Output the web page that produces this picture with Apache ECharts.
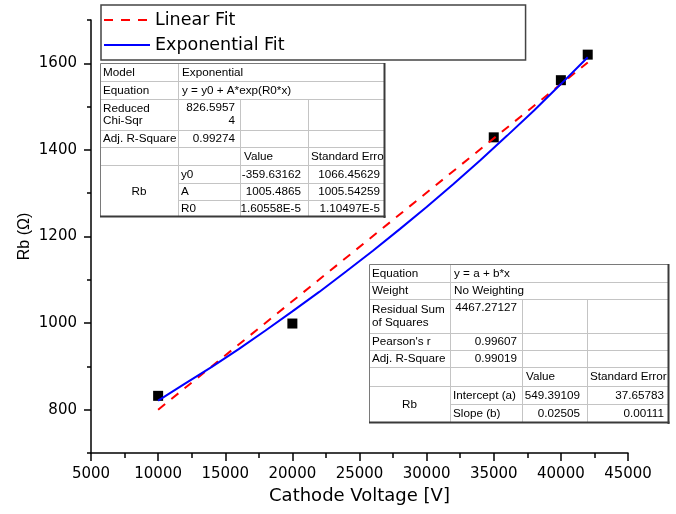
<!DOCTYPE html>
<html><head><meta charset="utf-8">
<script src="https://cdn.jsdelivr.net/npm/echarts@6/dist/echarts.min.js"></script>
<style>html,body{margin:0;padding:0;background:#fff}#c{width:676px;height:514px}</style>
</head><body><div id="c"></div><script>
// ---- data ----
const voltage = [10000, 20000, 35000, 40000, 42000];
const rb = [832, 999, 1429, 1561, 1620];
const linFitX = [10000, 42000];
const linFitY = [800, 1602];
const expFitX = [10000,12000,14000,16000,18000,20000,22000,24000,26000,28000,30000,32000,34000,36000,38000,40000,42000];
const expFitY = [821,860,899,940,983,1027,1072,1119,1167,1217,1268,1321,1376,1433,1491,1552,1614];
const yMajorTicks = [800, 1000, 1200, 1400, 1600];
const yMinorTicks = [700, 900, 1100, 1300, 1500, 1700];
const seriesNames = ['Linear Fit', 'Exponential Fit'];

const expInfoLabels = ['Model', 'Equation', 'Reduced\nChi-Sqr', 'Adj. R-Square'];
const expInfoValues = ['Exponential', 'y = y0 + A*exp(R0*x)', '826.5957\n4', '0.99274'];
const expParams = ['y0', 'A', 'R0'];
const expValues = ['-359.63162', '1005.4865', '1.60558E-5'];
const expErrors = ['1066.45629', '1005.54259', '1.10497E-5'];

const linInfoLabels = ['Equation', 'Weight', 'Residual Sum\nof Squares', "Pearson's r", 'Adj. R-Square'];
const linInfoValues = ['y = a + b*x', 'No Weighting', '4467.27127', '0.99607', '0.99019'];
const linParams = ['Intercept (a)', 'Slope (b)'];
const linValues = ['549.39109', '0.02505'];
const linErrors = ['37.65783', '0.00111'];
const headerValue = 'Value';
const headerError = 'Standard Error';
const groupName = 'Rb';

// ---- table drawing ----
const TFONT = 'Liberation Sans, Arial, sans-serif';
const TSIZE = 11.7;
function txt(x, y, text, align, valign, extra) {
  return {
    type: 'text', x: x, y: y, z: 20,
    style: Object.assign({ text: text, fill: '#000', fontSize: TSIZE, fontFamily: TFONT,
      align: align, verticalAlign: valign, lineHeight: 13 }, extra || {})
  };
}
function ln(x1, y1, x2, y2, color, w) {
  return { type: 'line', z: 19, shape: { x1: x1, y1: y1, x2: x2, y2: y2 },
    style: { stroke: color, lineWidth: w } };
}
function buildTable(cols, rows, infoLabels, infoValues, params, values, errors) {
  const els = [];
  const L = cols[0], R = cols[4], T = rows[0], B = rows[rows.length - 1];
  const nInfo = infoLabels.length;
  const hdr = nInfo;
  els.push({ type: 'rect', z: 18, shape: { x: L, y: T, width: R - L, height: B - T }, style: { fill: '#fff' } });
  const grid = '#c4c4c4';
  for (let i = 1; i <= hdr + 1; i++) els.push(ln(L, rows[i] + 0.5, R, rows[i] + 0.5, grid, 1));
  for (let i = hdr + 2; i < rows.length - 1; i++) els.push(ln(cols[1], rows[i] + 0.5, R, rows[i] + 0.5, grid, 1));
  els.push(ln(cols[1] + 0.5, T, cols[1] + 0.5, B, grid, 1));
  els.push(ln(cols[2] + 0.5, rows[2], cols[2] + 0.5, B, grid, 1));
  els.push(ln(cols[3] + 0.5, rows[2], cols[3] + 0.5, B, grid, 1));
  // cover for any text overflowing past the right edge
  els.push({ type: 'rect', z: 22, shape: { x: R, y: T + 1, width: 8, height: B - T - 2 }, style: { fill: '#fff' } });
  els.push({ type: 'rect', z: 23, shape: { x: L + 0.5, y: T + 0.5, width: R - L - 1, height: B - T - 1 },
    style: { fill: null, stroke: '#7a7a7a', lineWidth: 1 } });
  els.push(Object.assign(ln(R - 0.5, T, R - 0.5, B + 1, '#3a3a3a', 2), { z: 24 }));
  els.push(Object.assign(ln(L, B - 0.5, R + 0.5, B - 0.5, '#3a3a3a', 2), { z: 24 }));
  for (let i = 0; i < nInfo; i++) {
    const top = rows[i], bot = rows[i + 1], mid = (top + bot) / 2;
    const tall = bot - top > 22;
    els.push(txt(L + 3, mid + 0.5, infoLabels[i], 'left', 'middle', { lineHeight: tall ? 12.5 : 13 }));
    if (i < 2) {
      els.push(txt(cols[1] + 4, mid + 0.5, infoValues[i], 'left', 'middle'));
    } else if (tall) {
      els.push(txt(cols[2] - 5, top + 2, infoValues[i], 'right', 'top'));
    } else {
      els.push(txt(cols[2] - 5, mid + 0.5, infoValues[i], 'right', 'middle'));
    }
  }
  const hm = (rows[hdr] + rows[hdr + 1]) / 2 + 0.5;
  els.push(txt(cols[2] + 4, hm, headerValue, 'left', 'middle'));
  els.push(txt(cols[3] + 3, hm, headerError, 'left', 'middle'));
  els.push(txt((L + cols[1]) / 2, (rows[hdr + 1] + B) / 2 + 0.5, groupName, 'center', 'middle'));
  for (let j = 0; j < params.length; j++) {
    const m = (rows[hdr + 1 + j] + rows[hdr + 2 + j]) / 2 + 0.5;
    els.push(txt(cols[1] + 3, m, params[j], 'left', 'middle'));
    els.push(txt(cols[3] - 7, m, values[j], 'right', 'middle'));
    els.push(txt(R - 5, m, errors[j], 'right', 'middle'));
  }
  return els;
}

const graphics = []
  .concat(buildTable([100, 178, 240, 308, 385], [63, 81, 99, 130, 147, 165, 183, 200, 217],
    expInfoLabels, expInfoValues, expParams, expValues, expErrors))
  .concat(buildTable([369, 450, 522, 587, 669], [264, 282, 299, 333, 350, 367, 386, 404, 423],
    linInfoLabels, linInfoValues, linParams, linValues, linErrors));

const AFONT = 'DejaVu Sans, sans-serif';
const plain = v => String(v);
const chart = echarts.init(document.getElementById('c'), null, { renderer: 'canvas' });
chart.setOption({
  animation: false,
  backgroundColor: '#fff',
  grid: { left: 91, right: 48, top: 20, bottom: 61, containLabel: false },
  legend: {
    orient: 'vertical', left: 101, top: 5, data: seriesNames,
    itemWidth: 46, itemHeight: 14, itemGap: 5,
    padding: [5, 241, 5, 2], borderColor: '#444', borderWidth: 1.5, backgroundColor: '#fff',
    itemStyle: { opacity: 0 },
    textStyle: { fontSize: 17.5, fontFamily: AFONT, color: '#000', lineHeight: 20 }
  },
  xAxis: {
    type: 'value', min: 5000, max: 45000, interval: 5000,
    name: 'Cathode Voltage [V]', nameLocation: 'middle', nameGap: 34,
    nameTextStyle: { fontSize: 18, fontFamily: AFONT, color: '#000' },
    axisLine: { show: true, lineStyle: { color: '#000', width: 1.5 } },
    axisTick: { show: true, length: 8, lineStyle: { color: '#000', width: 1.5 } },
    minorTick: { show: true, splitNumber: 2, length: 5, lineStyle: { color: '#000', width: 1.5 } },
    axisLabel: { fontSize: 15, fontFamily: AFONT, color: '#000', margin: 14, formatter: plain },
    splitLine: { show: false }
  },
  yAxis: [{
    type: 'value', min: 700, max: 1700,
    name: 'Rb (Ω)', nameLocation: 'middle', nameGap: 58, nameMoveOverlap: false,
    nameTextStyle: { fontSize: 16, fontFamily: 'Liberation Sans, Arial, sans-serif', color: '#000' },
    axisLine: { show: true, lineStyle: { color: '#000', width: 1.5 } },
    axisTick: { show: true, length: 7, customValues: yMajorTicks, lineStyle: { color: '#000', width: 1.5 } },
    axisLabel: { fontSize: 15, fontFamily: AFONT, color: '#000', margin: 14, customValues: yMajorTicks, formatter: plain },
    splitLine: { show: false }
  }, {
    type: 'value', min: 700, max: 1700, position: 'left',
    axisLine: { show: false },
    axisTick: { show: true, length: 4, customValues: yMinorTicks, lineStyle: { color: '#000', width: 1.5 } },
    axisLabel: { show: false },
    splitLine: { show: false }
  }],
  series: [
    {
      type: 'scatter', name: 'Rb', symbol: 'rect', symbolSize: 10,
      itemStyle: { color: '#000', opacity: 1 },
      data: voltage.map((v, i) => [v, rb[i]])
    },
    {
      type: 'line', name: seriesNames[0], symbol: 'none', showSymbol: false,
      lineStyle: { color: '#ff0000', width: 2, type: [9, 8] },
      itemStyle: { color: '#ff0000' },
      data: linFitX.map((v, i) => [v, linFitY[i]])
    },
    {
      type: 'line', name: seriesNames[1], symbol: 'none', showSymbol: false,
      lineStyle: { color: '#0000ff', width: 2 },
      itemStyle: { color: '#0000ff' },
      data: expFitX.map((v, i) => [v, expFitY[i]])
    }
  ],
  graphic: graphics
});
</script></body></html>
